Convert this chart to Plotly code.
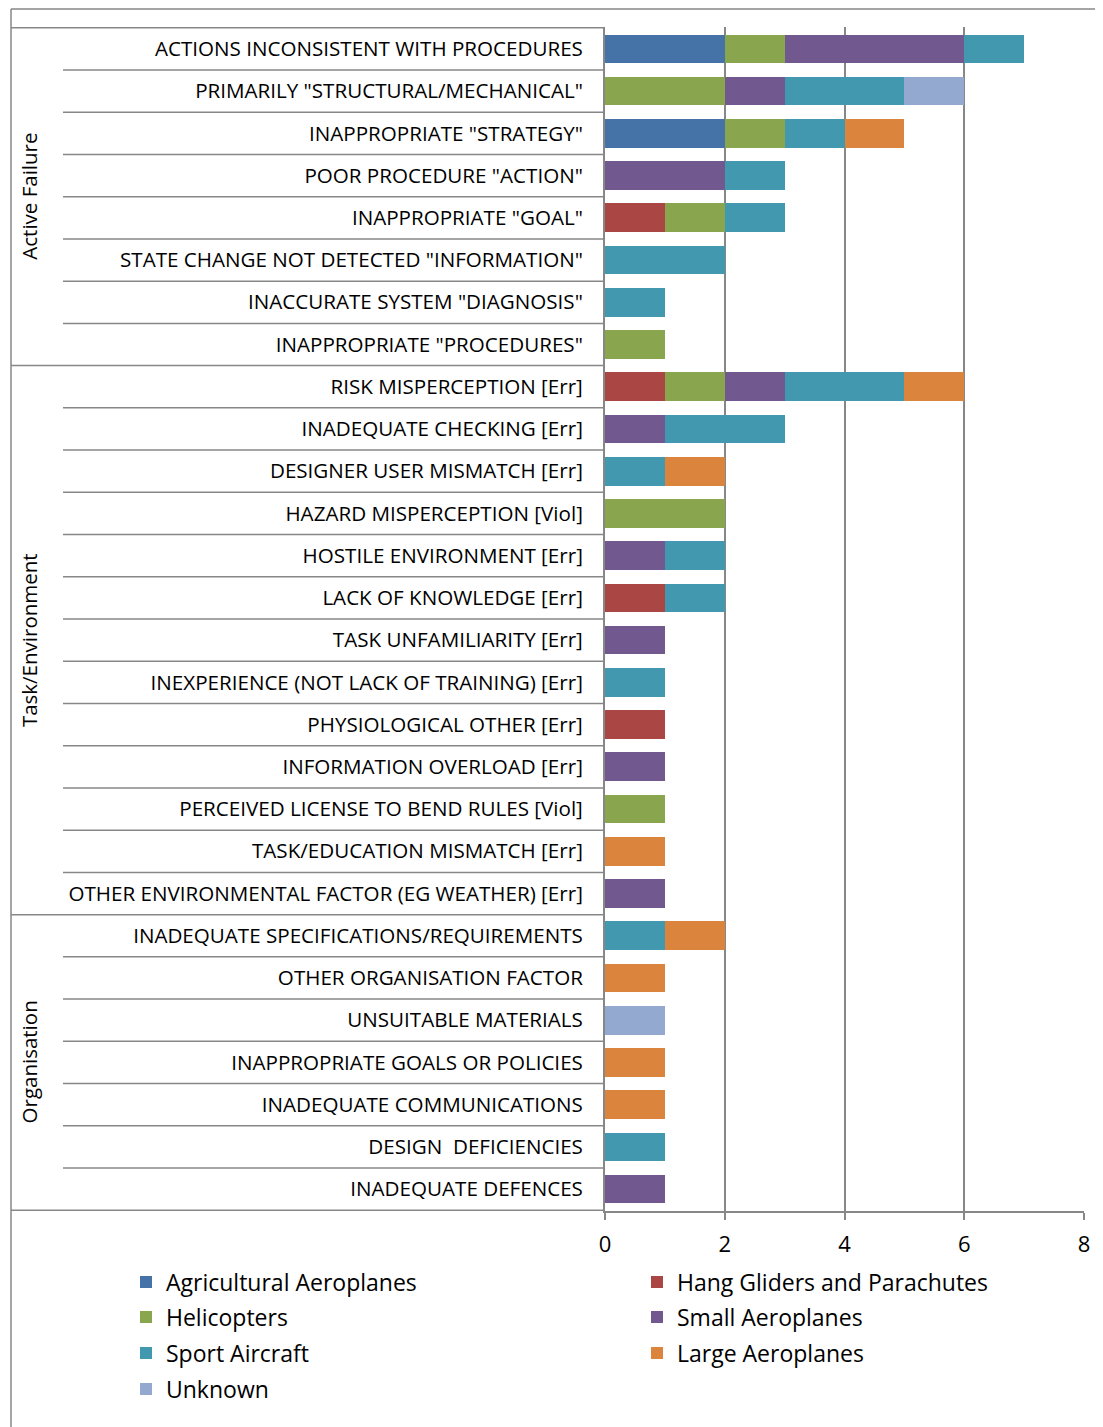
import plotly.graph_objects as go

categories = [
    'ACTIONS INCONSISTENT WITH PROCEDURES',
    'PRIMARILY "STRUCTURAL/MECHANICAL"',
    'INAPPROPRIATE "STRATEGY"',
    'POOR PROCEDURE "ACTION"',
    'INAPPROPRIATE "GOAL"',
    'STATE CHANGE NOT DETECTED "INFORMATION"',
    'INACCURATE SYSTEM "DIAGNOSIS"',
    'INAPPROPRIATE "PROCEDURES"',
    'RISK MISPERCEPTION [Err]',
    'INADEQUATE CHECKING [Err]',
    'DESIGNER USER MISMATCH [Err]',
    'HAZARD MISPERCEPTION [Viol]',
    'HOSTILE ENVIRONMENT [Err]',
    'LACK OF KNOWLEDGE [Err]',
    'TASK UNFAMILIARITY [Err]',
    'INEXPERIENCE (NOT LACK OF TRAINING) [Err]',
    'PHYSIOLOGICAL OTHER [Err]',
    'INFORMATION OVERLOAD [Err]',
    'PERCEIVED LICENSE TO BEND RULES [Viol]',
    'TASK/EDUCATION MISMATCH [Err]',
    'OTHER ENVIRONMENTAL FACTOR (EG WEATHER) [Err]',
    'INADEQUATE SPECIFICATIONS/REQUIREMENTS',
    'OTHER ORGANISATION FACTOR',
    'UNSUITABLE MATERIALS',
    'INAPPROPRIATE GOALS OR POLICIES',
    'INADEQUATE COMMUNICATIONS',
    'DESIGN\u00a0 DEFICIENCIES',
    'INADEQUATE DEFENCES',
]

groups = ["Active Failure", "Task/Environment", "Organisation"]
group_sizes = [8, 13, 7]

agricultural = [2, 0, 2, 0, 0, 0, 0, 0, 0, 0, 0, 0, 0, 0, 0, 0, 0, 0, 0, 0, 0, 0, 0, 0, 0, 0, 0, 0]
hang_gliders = [0, 0, 0, 0, 1, 0, 0, 0, 1, 0, 0, 0, 0, 1, 0, 0, 1, 0, 0, 0, 0, 0, 0, 0, 0, 0, 0, 0]
helicopters = [1, 2, 1, 0, 1, 0, 0, 1, 1, 0, 0, 2, 0, 0, 0, 0, 0, 0, 1, 0, 0, 0, 0, 0, 0, 0, 0, 0]
small_aero = [3, 1, 0, 2, 0, 0, 0, 0, 1, 1, 0, 0, 1, 0, 1, 0, 0, 1, 0, 0, 1, 0, 0, 0, 0, 0, 0, 1]
sport = [1, 2, 1, 1, 1, 2, 1, 0, 2, 2, 1, 0, 1, 1, 0, 1, 0, 0, 0, 0, 0, 1, 0, 0, 0, 0, 1, 0]
large_aero = [0, 0, 1, 0, 0, 0, 0, 0, 1, 0, 1, 0, 0, 0, 0, 0, 0, 0, 0, 1, 0, 1, 1, 0, 1, 1, 0, 0]
unknown = [0, 1, 0, 0, 0, 0, 0, 0, 0, 0, 0, 0, 0, 0, 0, 0, 0, 0, 0, 0, 0, 0, 0, 1, 0, 0, 0, 0]

series = [
    ("Agricultural Aeroplanes", agricultural, "#4572A7", "legend"),
    ("Hang Gliders and Parachutes", hang_gliders, "#AA4643", "legend"),
    ("Helicopters", helicopters, "#89A54E", "legend2"),
    ("Small Aeroplanes", small_aero, "#71588F", "legend2"),
    ("Sport Aircraft", sport, "#4198AF", "legend3"),
    ("Large Aeroplanes", large_aero, "#DB843D", "legend3"),
    ("Unknown", unknown, "#93A9CF", "legend4"),
]

# the page body adds an 8px margin, so the figure is drawn 8px smaller
OFF = 8
W, H = 1103 - OFF, 1427 - OFF
L, T = 605 - OFF, 27 - OFF
R, B = W - (1084 - OFF), H - (1211 - OFF)
pw, ph = W - L - R, H - T - B
FONT = "Open Sans"
GRID = "#878787"


def px_x(p):
    # screen px of the reference -> paper x
    return (p - OFF - L) / pw


def px_y(p):
    return (H - B - (p - OFF)) / ph


fig = go.Figure()
for name, vals, color, leg in series:
    fig.add_trace(go.Bar(
        y=categories, x=vals, name=name, orientation="h",
        marker=dict(color=color, line=dict(width=0)), legend=leg,
    ))

# table lines on the left
shapes = []
n = len(categories)
bounds = set()
acc = 0
for s in group_sizes:
    acc += s
    bounds.add(acc - 0.5)
for i in range(n - 1):
    b = i + 0.5
    x0 = px_x(11) if b in bounds else px_x(63)
    shapes.append(dict(type="line", xref="paper", yref="y", x0=x0, x1=0, y0=b, y1=b,
                       line=dict(color=GRID, width=1.5)))
for b in (-0.5, n - 0.5):
    shapes.append(dict(type="line", xref="paper", yref="y", x0=px_x(11), x1=0, y0=b, y1=b,
                       line=dict(color=GRID, width=1.5)))
# outer chart border
shapes.append(dict(type="line", xref="paper", yref="paper", x0=px_x(11), x1=px_x(1103),
                   y0=px_y(9), y1=px_y(9), line=dict(color=GRID, width=1.5)))
shapes.append(dict(type="line", xref="paper", yref="paper", x0=px_x(11), x1=px_x(11),
                   y0=px_y(9), y1=px_y(1427), line=dict(color=GRID, width=1.5)))

annotations = []
start = 0
for g, s in zip(groups, group_sizes):
    annotations.append(dict(
        text=g, xref="paper", yref="y", x=px_x(29), y=start + (s - 1) / 2,
        textangle=-90, showarrow=False, xanchor="center", yanchor="middle",
        font=dict(family=FONT, size=20.5, color="black"),
    ))
    start += s

legend_rows = [1282, 1317, 1353, 1389]
legend_cfg = {}
for k, yc in enumerate(legend_rows):
    key = "legend" if k == 0 else f"legend{k + 1}"
    legend_cfg[key] = dict(
        orientation="h", xref="paper", yref="paper", x=px_x(126), y=px_y(yc),
        xanchor="left", yanchor="middle", entrywidth=466, entrywidthmode="pixels",
        font=dict(family=FONT, size=23, color="black"), bgcolor="rgba(0,0,0,0)",
        traceorder="normal",
    )

fig.update_layout(
    width=W, height=H, barmode="stack", bargap=0.32,
    margin=dict(l=L, r=R, t=T, b=B, autoexpand=False),
    plot_bgcolor="white", paper_bgcolor="white",
    font=dict(family=FONT, color="black"),
    shapes=shapes, annotations=annotations,
    **legend_cfg,
)
fig.update_xaxes(
    range=[0, 8], dtick=2, showgrid=True, gridcolor=GRID, gridwidth=2,
    showline=True, linecolor=GRID, linewidth=2, ticks="outside", ticklen=7,
    tickcolor=GRID, tickwidth=2, zeroline=False, ticklabelstandoff=6,
    tickfont=dict(family=FONT, size=22, color="black"),
)
fig.update_yaxes(
    categoryorder="array", categoryarray=categories, autorange="reversed",
    showgrid=False, showline=True, linecolor=GRID, linewidth=2, ticks="",
    ticklabelstandoff=16, tickfont=dict(family=FONT, size=20.6, color="black"),
)

fig.write_html("out.html")
